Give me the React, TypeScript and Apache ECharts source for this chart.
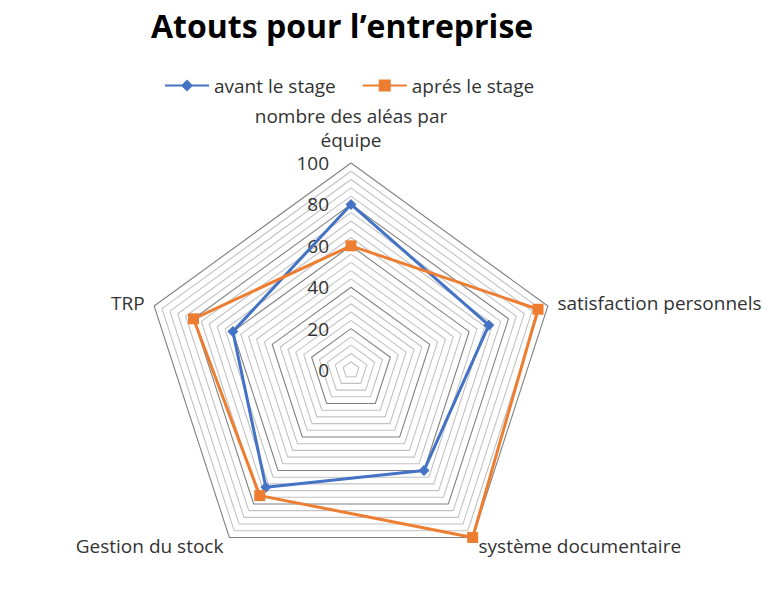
import { useEffect, useRef } from 'react'
import * as echarts from 'echarts'

// ECharts places radar axes counter-clockwise from the top
const indicatorNames = [
  'nombre des aléas par\néquipe',
  'TRP',
  'Gestion du stock',
  'système documentaire',
  'satisfaction personnels',
]
const avantValues = [80, 60, 70, 60, 70]
const apresValues = [60, 80, 75, 100, 95]
const seriesNames = ['avant le stage', 'aprés le stage']
const axisMax = 100
const ringCount = 25
const labelStep = 20

const BLUE = '#4472C4'
const ORANGE = '#ED7D31'
const TEXT = '#333333'
const FONT = '"Open Sans", sans-serif'

const DIAMOND_ICON = 'path://M0,5L44,5L44,7L0,7Z M22,0L28,6L22,12L16,6Z'
const SQUARE_ICON = 'path://M0,5L44,5L44,7L0,7Z M16,0L28,0L28,12L16,12Z'

export default function App() {
  const chartRef = useRef<HTMLDivElement>(null)

  useEffect(() => {
    if (!chartRef.current) return
    const chart = echarts.init(chartRef.current, undefined, { renderer: 'svg' })

    const option: echarts.EChartsOption = {
      animation: false,
      title: {
        text: 'Atouts pour l’entreprise',
        left: 146,
        top: 4,
        textStyle: { fontSize: 32, fontWeight: 'bold', color: '#000', fontFamily: FONT },
      },
      legend: {
        top: 71,
        left: 160,
        itemWidth: 44,
        itemHeight: 12,
        itemGap: 27,
        textStyle: { fontSize: 19, color: TEXT, fontFamily: FONT },
        data: [
          { name: seriesNames[0], icon: DIAMOND_ICON },
          { name: seriesNames[1], icon: SQUARE_ICON },
        ],
      },
      radar: {
        center: [351, 370],
        radius: 207,
        startAngle: 90,
        splitNumber: ringCount,
        shape: 'polygon',
        nameGap: 10,
        axisName: { color: TEXT, fontSize: 19, fontFamily: FONT, lineHeight: 24 },
        axisLine: { show: false },
        axisTick: { show: false },
        axisLabel: { show: false },
        splitArea: { show: false },
        splitLine: {
          lineStyle: {
            width: 1.1,
            color: ['#808080', '#c2c2c2', '#c2c2c2', '#c2c2c2', '#c2c2c2'],
          },
        },
        indicator: indicatorNames.map((name, i) => ({
          name,
          min: 0,
          max: axisMax,
          ...(i === 0
            ? {
                nameGap: 11,
                axisLabel: {
                  show: true,
                  color: TEXT,
                  fontSize: 19,
                  fontFamily: FONT,
                  margin: 22,
                  formatter: (v: number) => (v % labelStep === 0 ? String(v) : ''),
                },
              }
            : {}),
        })),
      },
      series: [
        {
          type: 'radar',
          data: [
            {
              name: seriesNames[0],
              value: avantValues,
              symbol: 'diamond',
              symbolSize: 11,
              lineStyle: { color: BLUE, width: 3 },
              itemStyle: { color: BLUE },
            },
            {
              name: seriesNames[1],
              value: apresValues,
              symbol: 'rect',
              symbolSize: 11,
              lineStyle: { color: ORANGE, width: 3 },
              itemStyle: { color: ORANGE },
            },
          ],
        },
      ],
    }

    chart.setOption(option)
    return () => chart.dispose()
  }, [])

  return (
    <div
      ref={chartRef}
      style={{ position: 'fixed', left: 0, top: 0, width: 773, height: 599, background: '#fff' }}
    />
  )
}
